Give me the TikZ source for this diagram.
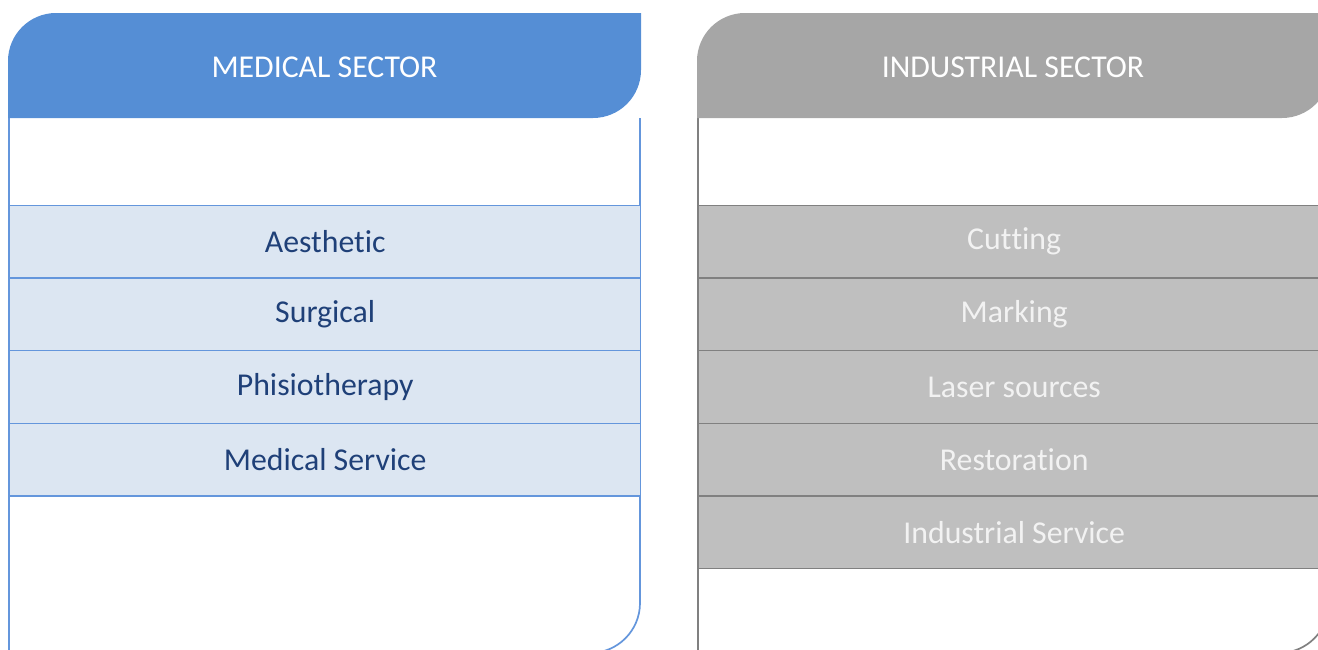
\documentclass[tikz,border=0pt]{standalone}
\usepackage{fontspec}
\setmainfont{Carlito}[Ligatures=NoCommon]
\newcommand{\nolig}{\kern0pt{}}
\definecolor{medhead}{RGB}{85,142,213}
\definecolor{medrow}{RGB}{220,230,242}
\definecolor{medline}{RGB}{100,150,220}
\definecolor{medtext}{RGB}{31,64,120}
\definecolor{indhead}{RGB}{166,166,166}
\definecolor{indrow}{RGB}{191,191,191}
\definecolor{indline}{RGB}{128,128,128}
\definecolor{indtext}{RGB}{242,242,242}
\tikzset{
  rowbox/.style={rectangle, minimum width=631pt, minimum height=72.7pt, inner sep=0pt, anchor=north west, line width=1.4pt, font=\fontsize{31.8}{36}\selectfont},
  medrowbox/.style={rowbox, fill=medrow, draw=medline, text=medtext},
  indrowbox/.style={rowbox, fill=indrow, draw=indline, text=indtext},
  headtext/.style={font=\fontsize{31.8}{36}\selectfont, text=white, inner sep=0pt},
}
\begin{document}
\begin{tikzpicture}[x=1pt,y=-1pt]
\useasboundingbox (0,0) rectangle (1318,649);
\begin{scope}
\clip (0,0) rectangle (1318,649);
% ---------- Medical sector ----------
\draw[medline, line width=1.7pt] (640,118) -- (640,603) .. controls (640,630.6) and (617.6,653) .. (590,653) -- (9,653) -- (9,118);
\fill[medhead] (8,118) -- (8,61) .. controls (8,34.5) and (29.5,13) .. (56,13) -- (641,13) -- (641,70) .. controls (641,96.5) and (619.5,118) .. (593,118) -- cycle;
\node[headtext] (medh) at (324.5,67) {MEDICAL SECTOR};
\node[medrowbox] (m1) at (9,204.5) {Aesthetic};
\node[medrowbox] (m2) at (9,277.2) {Surgical};
\node[medrowbox] (m3) at (9,349.9) {Phisiotherapy};
\node[medrowbox] (m4) at (9,422.6) {Medical Service};
% ---------- Industrial sector ----------
\draw[indline, line width=1.7pt] (1329,118) -- (1329,603) .. controls (1329,630.6) and (1306.6,653) .. (1279,653) -- (698,653) -- (698,118);
\fill[indhead] (697,118) -- (697,61) .. controls (697,34.5) and (718.5,13) .. (745,13) -- (1330,13) -- (1330,70) .. controls (1330,96.5) and (1308.5,118) .. (1282,118) -- cycle;
\node[headtext] (indh) at (1013,67) {INDUSTRIAL SECTOR};
\node[indrowbox] (i1) at (698,204.5) {Cut\nolig t\nolig ing};
\node[indrowbox] (i2) at (698,277.2) {Marking};
\node[indrowbox] (i3) at (698,349.9) {Laser sources};
\node[indrowbox] (i4) at (698,422.6) {Restorat\nolig ion};
\node[indrowbox] (i5) at (698,495.3) {Industrial Service};
\end{scope}
\end{tikzpicture}
\end{document}
